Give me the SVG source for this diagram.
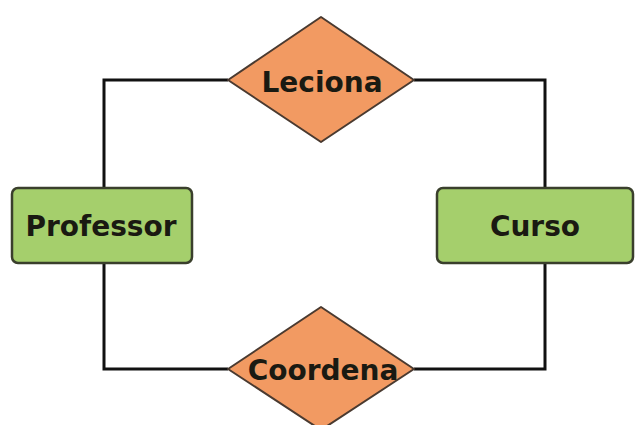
<svg xmlns="http://www.w3.org/2000/svg" width="643" height="425" viewBox="0 0 643 425">
  <style>
    .entity { fill: #a5cf6c; stroke: #3a3f2c; stroke-width: 2.5; }
    .relation { fill: #f29a62; stroke: #4a3a30; stroke-width: 2; stroke-linejoin: round; }
    .label { font-family: "DejaVu Sans", Verdana, sans-serif; font-weight: bold; font-size: 28px; fill: #1a1a12; text-anchor: middle; dominant-baseline: central; }
    .link { fill: none; stroke: #111; stroke-width: 3; }
  </style>
  <rect width="643" height="425" fill="#ffffff"/>

  <g id="connectors">
    <polyline class="link" points="104,188 104,80 228,80"/>
    <polyline class="link" points="414,80 545,80 545,188"/>
    <polyline class="link" points="104,263 104,369 228,369"/>
    <polyline class="link" points="414,369 545,369 545,263"/>
  </g>

  <g id="professor">
    <rect class="entity" x="12" y="188" width="180" height="75" rx="6"/>
    <text class="label" x="101" y="226">Professor</text>
  </g>

  <g id="curso">
    <rect class="entity" x="437" y="188" width="196" height="75" rx="6"/>
    <text class="label" x="535" y="226">Curso</text>
  </g>

  <g id="leciona">
    <polygon class="relation" points="321,17 414,80 321,142 228,80"/>
    <text class="label" x="322" y="82">Leciona</text>
  </g>

  <g id="coordena">
    <polygon class="relation" points="321,307 414,369 321,430 228,369"/>
    <text class="label" x="323" y="370">Coordena</text>
  </g>
</svg>
